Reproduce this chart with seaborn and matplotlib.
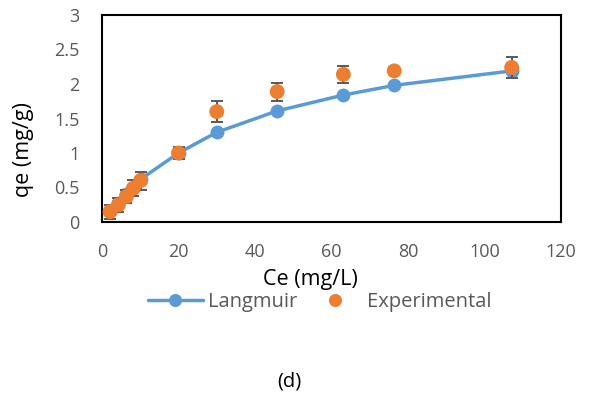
import matplotlib
matplotlib.use("Agg")
import matplotlib.pyplot as plt
import seaborn as sns
import pandas as pd
from matplotlib.lines import Line2D

ce = [2.1, 4.3, 6.4, 8.2, 10.1, 20.0, 30.0, 45.8, 63.1, 76.4, 107.1]
q_langmuir = [0.16, 0.28, 0.40, 0.50, 0.62, 1.00, 1.30, 1.61, 1.84, 1.98, 2.19]
q_exp = [0.15, 0.25, 0.37, 0.49, 0.60, 1.00, 1.60, 1.89, 2.14, 2.19, 2.24]
q_err = [0.10, 0.10, 0.10, 0.12, 0.13, 0.08, 0.15, 0.13, 0.12, 0.05, 0.155]
x_ticks = [0, 20, 40, 60, 80, 100, 120]
y_ticks = [0, 0.5, 1, 1.5, 2, 2.5, 3]
y_ticklabels = ["0", "0.5", "1", "1.5", "2", "2.5", "3"]

sns.set_theme(style="white")
plt.rcParams["font.family"] = ["Open Sans", "DejaVu Sans"]

BLUE = "#5B9BD5"
ORANGE = "#ED7D31"
GRAY = "#595959"

df = pd.DataFrame({"ce": ce, "lang": q_langmuir, "exp": q_exp, "err": q_err})

W, H = 592, 394
fig = plt.figure(figsize=(W / 100, H / 100), dpi=100)
L, R, T, B = 102, 561, 15, 222
ax = fig.add_axes([L / W, 1 - B / H, (R - L) / W, (B - T) / H])

sns.lineplot(data=df, x="ce", y="lang", ax=ax, color=BLUE, lw=2.5, marker="o",
             markersize=10, markeredgewidth=0, markerfacecolor=BLUE, zorder=2)
ax.errorbar(df["ce"], df["exp"], yerr=df["err"], fmt="none", ecolor=GRAY,
            elinewidth=1.4, capsize=4.3, capthick=1.4, zorder=3)
sns.scatterplot(data=df, x="ce", y="exp", ax=ax, color=ORANGE, s=115,
                edgecolor="none", linewidth=0, zorder=4)

ax.set_xlim(0, 120)
ax.set_ylim(0, 3)
ax.set_xticks(x_ticks)
ax.set_yticks(y_ticks)
ax.set_yticklabels(y_ticklabels)
for s in ax.spines.values():
    s.set_color("black")
    s.set_linewidth(1.5)
ax.tick_params(axis="x", direction="in", length=6, width=1.2, colors="black",
               labelcolor=GRAY, labelsize=13, pad=15)
ax.tick_params(axis="y", direction="out", length=5, width=1.2, colors="black",
               labelcolor=GRAY, labelsize=13, pad=11)

ax.set_xlabel("Ce (mg/L)", fontsize=15.5, color="black")
ax.xaxis.label.set_va("center")
ax.xaxis.set_label_coords((310 - L) / (R - L), (B - 279) / (B - T))
ax.set_ylabel("qe (mg/g)", fontsize=15.5, color="black")
ax.yaxis.label.set_va("center")
ax.yaxis.set_label_coords((24 - L) / (R - L), (B - 150) / (B - T))

handles = [
    Line2D([0], [0], color=BLUE, lw=2.5, marker="o", markersize=9.4,
           markeredgewidth=0, label="Langmuir"),
    Line2D([0], [0], color=ORANGE, lw=0, marker="o", markersize=9.4,
           markeredgewidth=0, label="Experimental"),
]
leg = fig.legend(handles=handles, loc="center", bbox_to_anchor=(320 / W, 1 - 302 / H),
                 ncol=2, frameon=False, fontsize=14.5, handlelength=2.7,
                 handletextpad=0.25, columnspacing=0.55, borderpad=0)
for t in leg.get_texts():
    t.set_color(GRAY)

fig.text(289 / W, 1 - 382 / H, "(d)", ha="center", va="center", fontsize=14.5, color="black")

fig.savefig("out.png", dpi=100)
